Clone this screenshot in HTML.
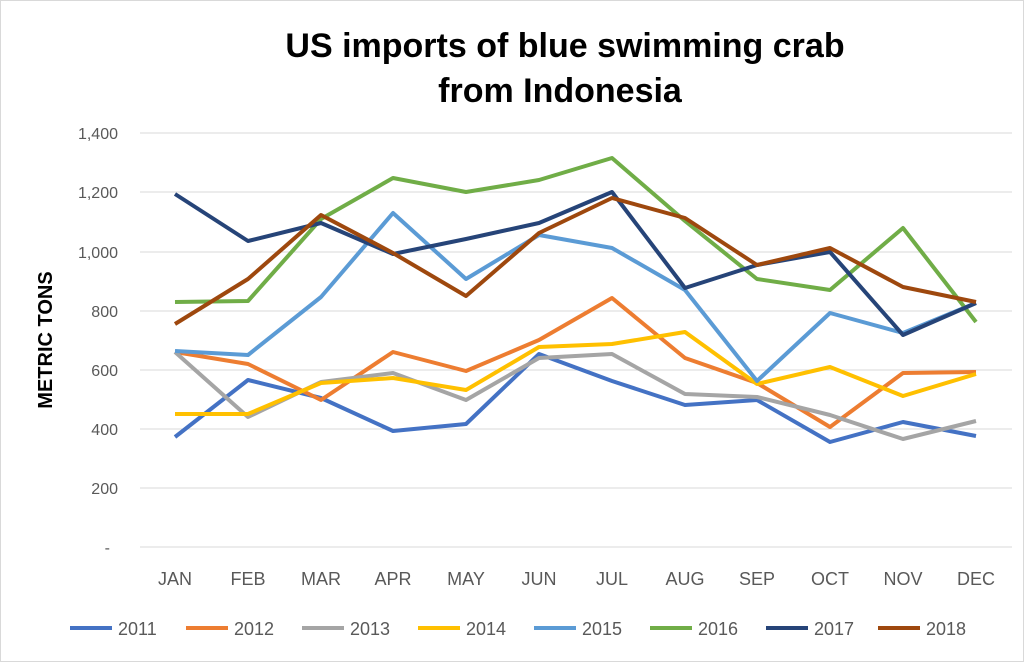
<!DOCTYPE html>
<html><head><meta charset="utf-8"><style>
body{margin:0;background:#fff}
svg{display:block;font-family:"Liberation Sans",sans-serif}
</style></head><body>
<svg width="1024" height="662" viewBox="0 0 1024 662">
<rect x="0.5" y="0.5" width="1023" height="661" fill="#fff" stroke="#d9d9d9"/>
<text x="565" y="57" text-anchor="middle" font-size="34" font-weight="bold" fill="#000">US imports of blue swimming crab</text>
<text x="560" y="102" text-anchor="middle" font-size="34" font-weight="bold" fill="#000">from Indonesia</text>
<g stroke="#d9d9d9" stroke-width="1">
<line x1="140" x2="1012" y1="133" y2="133"/><line x1="140" x2="1012" y1="192" y2="192"/>
<line x1="140" x2="1012" y1="252" y2="252"/><line x1="140" x2="1012" y1="311" y2="311"/>
<line x1="140" x2="1012" y1="370" y2="370"/><line x1="140" x2="1012" y1="429" y2="429"/>
<line x1="140" x2="1012" y1="488" y2="488"/><line x1="140" x2="1012" y1="547" y2="547"/>
</g>
<g font-size="16" fill="#595959" text-anchor="end">
<text x="118" y="139">1,400</text><text x="118" y="198">1,200</text><text x="118" y="258">1,000</text>
<text x="118" y="317">800</text><text x="118" y="376">600</text><text x="118" y="435">400</text>
<text x="118" y="494">200</text><text x="110" y="553">-</text>
</g>
<text transform="translate(52,340) rotate(-90)" text-anchor="middle" font-size="20" font-weight="bold" fill="#000">METRIC TONS</text>
<g font-size="18" fill="#595959" text-anchor="middle">
<text x="175" y="585">JAN</text><text x="248" y="585">FEB</text><text x="321" y="585">MAR</text>
<text x="393" y="585">APR</text><text x="466" y="585">MAY</text><text x="539" y="585">JUN</text>
<text x="612" y="585">JUL</text><text x="685" y="585">AUG</text><text x="757" y="585">SEP</text>
<text x="830" y="585">OCT</text><text x="903" y="585">NOV</text><text x="976" y="585">DEC</text>
</g>
<g fill="none" stroke-width="4" stroke-linejoin="round">
<polyline stroke="#4472c4" points="175,437 248,380 321,398 393,431 466,424 539,354 612,381 685,405 757,400 830,442 903,422 976,436"/>
<polyline stroke="#ed7d31" points="175,352 248,364 321,400 393,352 466,371 539,340 612,298 685,358 757,383 830,427 903,373 976,372"/>
<polyline stroke="#a5a5a5" points="175,352 248,417 321,382 393,373 466,400 539,358 612,354 685,394 757,397 830,415 903,439 976,421"/>
<polyline stroke="#ffc000" points="175,414 248,414 321,383 393,378 466,390 539,347 612,344 685,332 757,384 830,367 903,396 976,374"/>
<polyline stroke="#5b9bd5" points="175,351 248,355 321,297 393,213 466,279 539,235 612,248 685,290 757,381 830,313 903,333 976,303"/>
<polyline stroke="#70ad47" points="175,302 248,301 321,219 393,178 466,192 539,180 612,158 685,221 757,279 830,290 903,228 976,322"/>
<polyline stroke="#264478" points="175,194 248,241 321,223 393,254 466,239 539,223 612,192 685,288 757,265 830,252 903,335 976,303"/>
<polyline stroke="#9e480e" points="175,324 248,279 321,215 393,253 466,296 539,233 612,198 685,218 757,265 830,248 903,287 976,302"/>
</g>
<g font-size="18" fill="#595959" stroke-width="4">
<line x1="70" x2="112" y1="628" y2="628" stroke="#4472c4"/><text x="118" y="635">2011</text>
<line x1="186" x2="228" y1="628" y2="628" stroke="#ed7d31"/><text x="234" y="635">2012</text>
<line x1="302" x2="344" y1="628" y2="628" stroke="#a5a5a5"/><text x="350" y="635">2013</text>
<line x1="418" x2="460" y1="628" y2="628" stroke="#ffc000"/><text x="466" y="635">2014</text>
<line x1="534" x2="576" y1="628" y2="628" stroke="#5b9bd5"/><text x="582" y="635">2015</text>
<line x1="650" x2="692" y1="628" y2="628" stroke="#70ad47"/><text x="698" y="635">2016</text>
<line x1="766" x2="808" y1="628" y2="628" stroke="#264478"/><text x="814" y="635">2017</text>
<line x1="878" x2="920" y1="628" y2="628" stroke="#9e480e"/><text x="926" y="635">2018</text>
</g>
</svg>
</body></html>
